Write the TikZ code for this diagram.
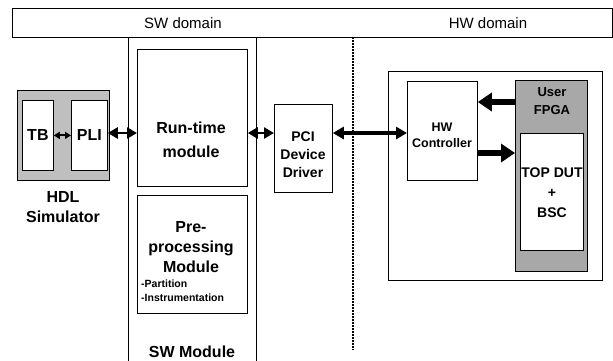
\documentclass[tikz,border=0pt]{standalone}
\usepackage{fontspec}
\setmainfont{Liberation Sans}
\usetikzlibrary{arrows.meta}

\tikzset{
  box/.style={draw, line width=0.8pt, inner sep=0pt, anchor=north west},
  lbl/.style={font=\bfseries\fontsize{16}{20}\selectfont, align=center, inner sep=0pt},
  dom/.style={font=\fontsize{15}{18}\selectfont, inner sep=0pt},
  dblsmall/.style={{Triangle[length=6pt,width=7pt]}-{Triangle[length=6pt,width=7pt]}, line width=2pt},
  dblmid/.style={{Triangle[length=10pt,width=11pt]}-{Triangle[length=10pt,width=11pt]}, line width=2.6pt},
  dblbig/.style={{Triangle[length=11pt,width=12pt]}-{Triangle[length=11pt,width=12pt]}, line width=3.4pt},
  fat/.style={-{Triangle[length=14pt,width=18pt]}, line width=6pt},
}

\begin{document}
\begin{tikzpicture}[x=1pt,y=-1pt]
  \useasboundingbox (0,0) rectangle (613,360);

  % domain header bar and divider
  \node[box, minimum width=600pt, minimum height=29pt] (bar) at (12,8) {};
  \node[dom] (swd) at (183,23) {SW domain};
  \node[dom] (hwd) at (488,23) {HW domain};
  \coordinate (dtop) at (353,37);
  \coordinate (dbot) at (353,350);
  \draw[line width=2pt, dash pattern=on 2pt off 1pt] (dtop) -- (dbot);

  % HDL simulator
  \node[box, fill=gray!50, minimum width=92pt, minimum height=90pt] (hdl) at (17,90) {};
  \node[box, fill=white, minimum width=31pt, minimum height=70pt] (tb) at (22,100) {};
  \node[box, fill=white, minimum width=36pt, minimum height=70pt] (pli) at (71,100) {};
  \node[lbl] (tbt) at (tb.center) {TB};
  \node[lbl] (plit) at (pli.center) {PLI};
  \node[lbl] (hdlt) at (63,207) {HDL\\Simulator};

  % SW module
  \node[box, minimum width=128pt, minimum height=325pt] (sw) at (128,37) {};
  \node[box, minimum width=110pt, minimum height=137pt] (rt) at (137,49) {};
  \node[box, minimum width=110pt, minimum height=118pt] (pre) at (137,195) {};
  \node[lbl, font=\bfseries\fontsize{16}{24}\selectfont] (rtt) at (191,140) {Run-time\\module};
  \node[lbl] (pret) at (191,247) {Pre-\\processing\\Module};
  \node[lbl, font=\bfseries\fontsize{10.5}{14}\selectfont, align=left, anchor=west] (pret2) at (141,291) {-Partition\\-Instrumentation};
  \node[lbl] (swt) at (192,352) {SW Module};

  % PCI device driver
  \node[box, minimum width=58pt, minimum height=88pt] (pci) at (274,104) {};
  \node[lbl, font=\bfseries\fontsize{14}{18}\selectfont] (pcit) at (303,155) {PCI\\Device\\Driver};

  % HW side
  \node[box, minimum width=214pt, minimum height=209pt] (hw) at (388,71) {};
  \node[box, minimum width=70pt, minimum height=99pt] (hwc) at (407,81) {};
  \node[lbl, font=\bfseries\fontsize{12.5}{16}\selectfont] (hwct) at (442,135) {HW\\Controller};
  \node[box, fill=gray!68, minimum width=72pt, minimum height=191pt] (fpga) at (515,80) {};
  \node[lbl, font=\bfseries\fontsize{13}{18}\selectfont] (fpgat) at (552,101) {User\\FPGA};
  \node[box, fill=white, minimum width=63pt, minimum height=117pt] (dut) at (520,133) {};
  \node[lbl, font=\bfseries\fontsize{14}{20}\selectfont] (dutt) at (552,193) {TOP DUT\\+\\BSC};

  % connectors
  \draw[dblsmall] (tb.east) -- (tb.east -| pli.west);
  \draw[dblmid] (pli.east |- 0,133) -- (rt.west |- 0,133);
  \draw[dblmid] (rt.east |- 0,133) -- (pci.west |- 0,133);
  \draw[dblbig] (pci.east |- 0,133) -- (hwc.west |- 0,133);
  \draw[fat] (fpga.west |- 0,102) -- (hwc.east |- 0,102);
  \draw[fat] (hwc.east |- 0,153) -- (fpga.west |- 0,153);
\end{tikzpicture}
\end{document}
